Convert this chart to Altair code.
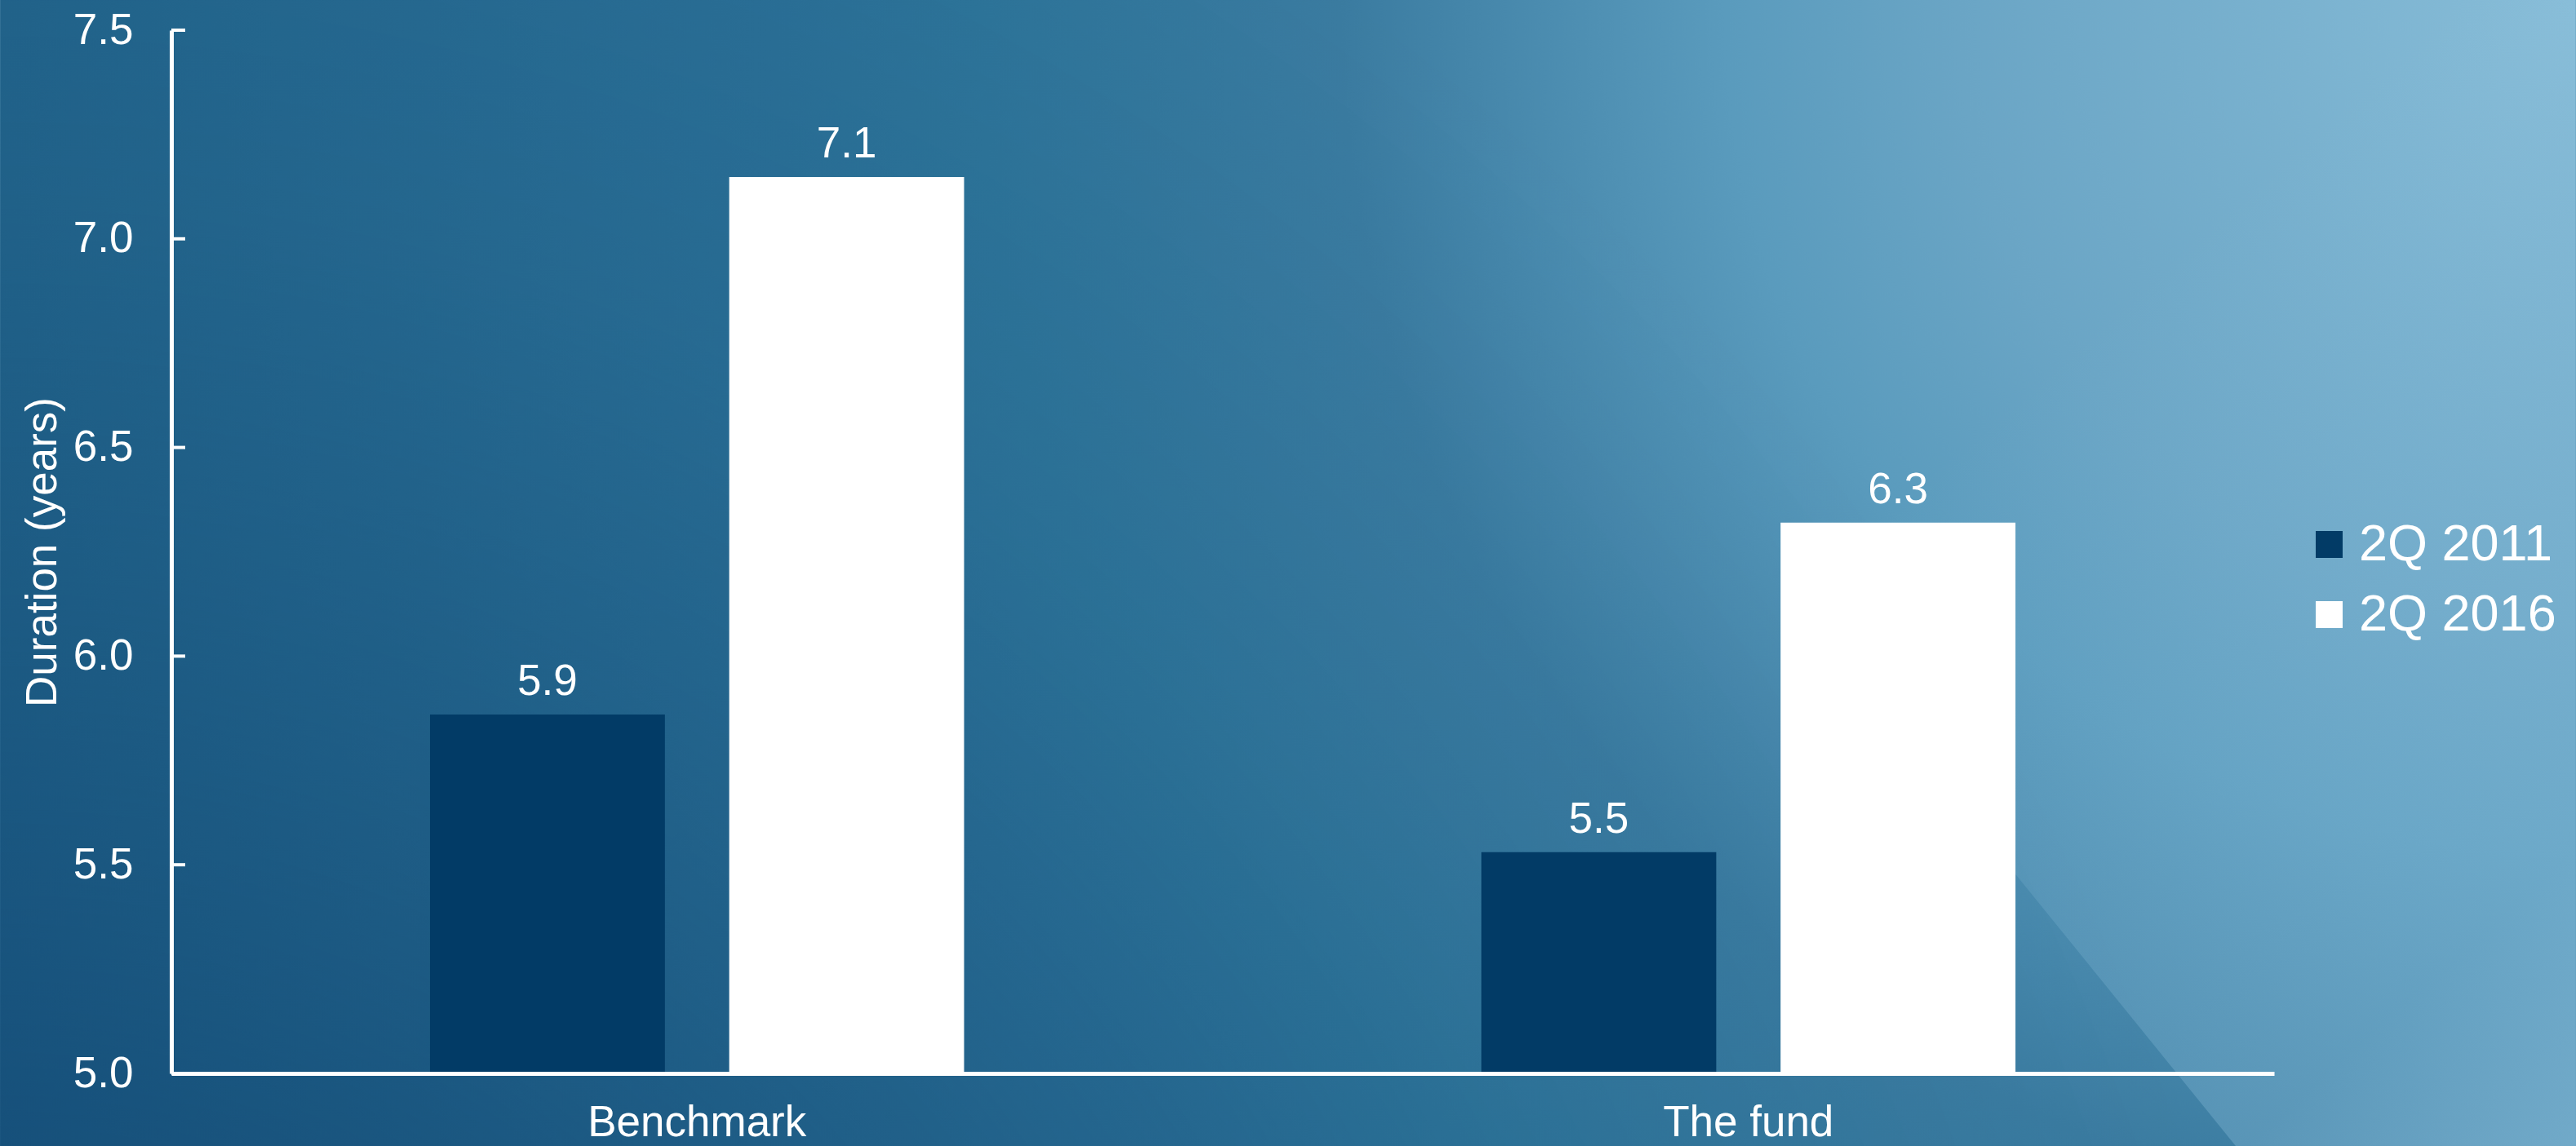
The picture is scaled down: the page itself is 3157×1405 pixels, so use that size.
import altair as alt
import pandas as pd

# ---- data ----
categories = ["Benchmark", "The fund"]
series = ["2Q 2011", "2Q 2016"]
values_2011 = [5.86, 5.53]
values_2016 = [7.148, 6.32]
y_ticks = [5.0, 5.5, 6.0, 6.5, 7.0, 7.5]
series_colors = ["#023B66", "#FFFFFF"]

rows = []
for i, c in enumerate(categories):
    rows.append({"category": c, "series": series[0], "value": values_2011[i]})
    rows.append({"category": c, "series": series[1], "value": values_2016[i]})
df = pd.DataFrame(rows)
ticks_df = pd.DataFrame({"tick": y_ticks})

FONT = "Liberation Sans"
W, H = 2577, 1279
PAD = {"left": 210, "top": 37, "right": 370, "bottom": 89}

# ---- decorative background (not data) ----
EXTRA_TOP = 1717
rscale = 1.1
bg_gradient = alt.RadialGradient(
    gradient="radial", x1=1, y1=0.55, r1=0, x2=1, y2=0.55, r2=rscale,
    stops=[
        alt.GradientStop(color="#88BDD8", offset=0.0),
        alt.GradientStop(color="#6AA5C5", offset=0.24 / rscale),
        alt.GradientStop(color="#5A9BBD", offset=0.33 / rscale),
        alt.GradientStop(color="#3A7BA0", offset=0.48 / rscale),
        alt.GradientStop(color="#2D7499", offset=0.62 / rscale),
        alt.GradientStop(color="#2A6F96", offset=0.70 / rscale),
        alt.GradientStop(color="#22648B", offset=1.0 / rscale),
        alt.GradientStop(color="#1F5F87", offset=1.0),
    ],
)
bg = alt.Chart(pd.DataFrame({"bg": [0]})).mark_rect(fill=bg_gradient, clip=False).encode(
    x=alt.value(-PAD["left"]), x2=alt.value(W + PAD["right"]),
    y=alt.value(-PAD["top"] - EXTRA_TOP), y2=alt.value(H + PAD["bottom"]),
)

shade_gradient = alt.RadialGradient(
    gradient="radial", x1=0, y1=1, r1=0, x2=0, y2=1, r2=0.9,
    stops=[
        alt.GradientStop(color="rgba(3,48,96,0.5)", offset=0.0),
        alt.GradientStop(color="rgba(3,48,96,0.3)", offset=0.3 / 0.9),
        alt.GradientStop(color="rgba(3,48,96,0.16)", offset=0.5 / 0.9),
        alt.GradientStop(color="rgba(3,48,96,0.06)", offset=0.65 / 0.9),
        alt.GradientStop(color="rgba(3,48,96,0.0)", offset=1.0),
    ],
)
shade = alt.Chart(pd.DataFrame({"bg": [0]})).mark_rect(fill=shade_gradient, clip=False).encode(
    x=alt.value(-PAD["left"]), x2=alt.value(W + PAD["right"]),
    y=alt.value(-PAD["top"]), y2=alt.value(H + PAD["bottom"]),
)

overlay_gradient = alt.LinearGradient(
    gradient="linear", x1=0, y1=0, x2=1, y2=1,
    stops=[
        alt.GradientStop(color="rgba(160,208,234,0.0)", offset=0.0),
        alt.GradientStop(color="rgba(160,208,234,0.0)", offset=0.45),
        alt.GradientStop(color="rgba(160,208,234,0.15)", offset=0.66),
        alt.GradientStop(color="rgba(160,208,234,0.28)", offset=0.87),
        alt.GradientStop(color="rgba(160,208,234,0.5)", offset=1.0),
    ],
)
edge_df = pd.DataFrame({"ey": [-PAD["top"], H + PAD["bottom"]],
                        "ex": [1392, 2530],
                        "ex2": [W + PAD["right"], W + PAD["right"]]})
overlay = alt.Chart(edge_df).mark_area(orient="horizontal", fill=overlay_gradient, clip=False).encode(
    y=alt.Y("ey:Q", scale=None, axis=None),
    x=alt.X("ex:Q", scale=None, axis=None),
    x2="ex2:Q",
)
deco = alt.layer(bg, shade, overlay)

# ---- main chart ----
x_enc = alt.X("category:N", sort=categories,
              scale=alt.Scale(paddingInner=0.492, paddingOuter=0.246),
              axis=alt.Axis(title=None, labelAngle=0, labelFontSize=53, labelColor="white",
                            labelFont=FONT, labelLimit=0, domainColor="white", domainWidth=5,
                            ticks=False, labelPadding=34, zindex=1))
xoff_enc = alt.XOffset("series:N", sort=series,
                       scale=alt.Scale(paddingInner=0.215, paddingOuter=0))
y_scale = alt.Scale(domain=[5.0, 7.5], nice=False, zero=False)

bars = alt.Chart(df).mark_bar().encode(
    x=x_enc,
    xOffset=xoff_enc,
    y=alt.Y("value:Q", scale=y_scale,
            axis=alt.Axis(title="Duration (years)", values=y_ticks, format=".1f",
                          titleFontSize=53, titleFont=FONT, titleFontWeight="normal",
                          titleColor="white", titlePadding=10, titleLimit=0,
                          labelFontSize=53, labelFont=FONT, labelColor="white",
                          labelPadding=47, ticks=False, grid=False,
                          domainColor="white", domainWidth=5, zindex=1)),
    y2=alt.datum(5.0),
    color=alt.Color("series:N", sort=series,
                    scale=alt.Scale(domain=series, range=series_colors),
                    legend=alt.Legend(title=None, orient="none", legendX=2613, legendY=599,
                                      labelFontSize=63, labelFont=FONT, labelColor="white",
                                      labelLimit=0,
                                      symbolType="square", symbolSize=1089,
                                      symbolStrokeWidth=0, labelOffset=5,
                                      rowPadding=22, padding=0, zindex=1)),
)

labels = alt.Chart(df).mark_text(baseline="alphabetic", dy=-24, fontSize=53,
                                 font=FONT, color="white").encode(
    x=alt.X("category:N", sort=categories),
    xOffset=alt.XOffset("series:N", sort=series),
    y=alt.Y("value:Q"),
    text=alt.Text("value:Q", format=".1f"),
)

tick_marks = alt.Chart(ticks_df).mark_rule(color="white", strokeWidth=4).encode(
    y=alt.Y("tick:Q"),
    x=alt.value(0), x2=alt.value(17),
)

main = alt.layer(bars, labels, tick_marks)

chart = alt.layer(deco, main).resolve_scale(
    x="independent", y="independent"
).properties(
    width=W, height=H, padding=PAD, autosize="none",
).configure_view(stroke=None).configure(font=FONT)

chart.save("out.html", embed_options={"renderer": "svg", "actions": False})
